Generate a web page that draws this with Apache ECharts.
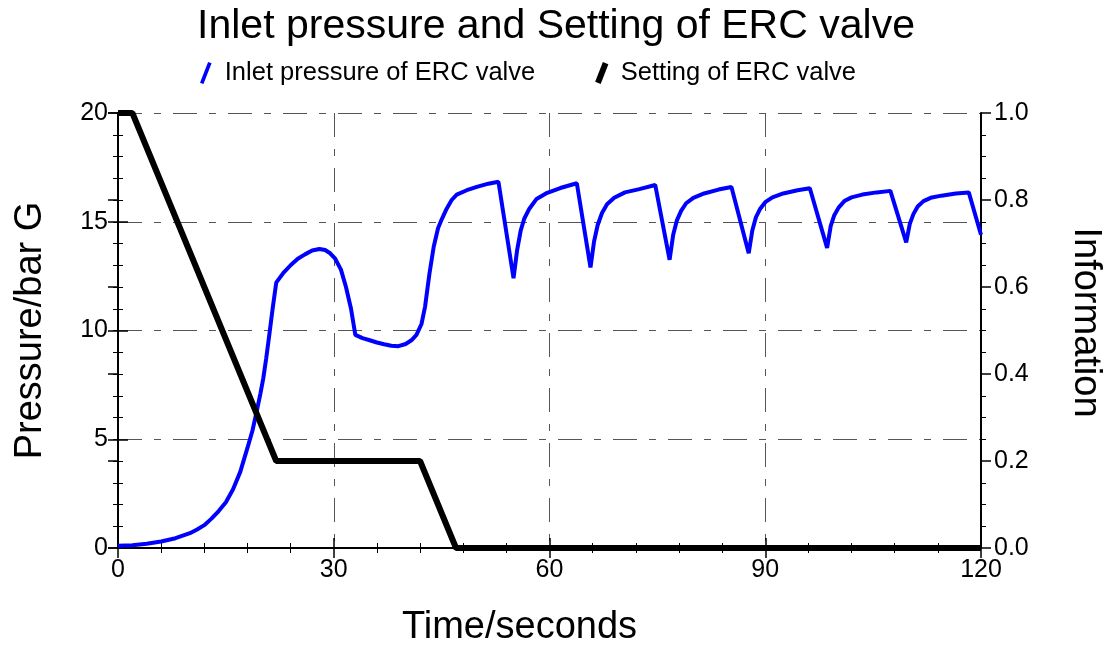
<!DOCTYPE html>
<html>
<head>
<meta charset="utf-8">
<script src="https://cdn.jsdelivr.net/npm/echarts@6/dist/echarts.min.js"></script>
<style>
  html, body { margin: 0; padding: 0; background: #fff; }
  #chart { width: 1112px; height: 645px; }
</style>
</head>
<body>
<div id="chart"></div>
<script>
// pressure on the left axis (bar G), time in seconds
const pressureTime = [
  0, 2, 4, 6, 8, 10, 11, 12, 13, 14, 15, 16, 17, 18, 18.7, 19.3, 19.8, 20.2, 20.6, 21, 21.5,
  22, 23, 24, 25, 26, 27, 28, 28.8, 29.5, 30.2, 31, 31.7, 32.4,
  33, 34, 35, 36, 37, 38, 39, 40, 40.8, 41.5,
  42.2, 42.7, 43.3, 43.9, 44.5, 45, 45.7, 46.4, 47.1, 48.5, 49.9, 51.5, 52.9,
  55, 55.5, 56, 56.5, 57.2, 58.2, 59.5, 61.5, 63.8,
  65.7, 66.2, 66.7, 67.3, 68, 69, 70.5, 72.5, 74.7,
  76.7, 77.2, 77.7, 78.3, 79, 80, 81.5, 83.5, 85.3,
  87.7, 88.2, 88.7, 89.3, 90, 91, 92.5, 94.5, 96.2,
  98.6, 99.1, 99.6, 100.2, 101, 102, 103.5, 105.5, 107.4,
  109.6, 110.1, 110.6, 111.2, 112, 113, 114.5, 116.5, 118.3, 120
];
const pressureValues = [
  0.1, 0.13, 0.2, 0.3, 0.45, 0.68, 0.85, 1.05, 1.35, 1.7, 2.1, 2.7, 3.5, 4.6, 5.4, 6.3, 7.1, 7.8, 8.7, 9.7, 11.0,
  12.2, 12.65, 13.0, 13.3, 13.5, 13.68, 13.75, 13.7, 13.55, 13.3, 12.8, 12.0, 11.0,
  9.8, 9.65, 9.55, 9.45, 9.37, 9.3, 9.28, 9.38, 9.55, 9.8,
  10.3, 11.1, 12.6, 13.85, 14.7, 15.1, 15.6, 16.0, 16.25, 16.45, 16.6, 16.75, 16.84,
  12.4, 13.7, 14.6, 15.15, 15.6, 16.05, 16.3, 16.55, 16.77,
  12.9, 14.1, 14.85, 15.4, 15.8, 16.1, 16.35, 16.5, 16.69,
  13.25, 14.4, 15.05, 15.5, 15.85, 16.1, 16.3, 16.48, 16.6,
  13.55, 14.6, 15.2, 15.6, 15.9, 16.12, 16.3, 16.45, 16.54,
  13.8, 14.8, 15.3, 15.65, 15.95, 16.12, 16.25, 16.35, 16.42,
  14.05, 14.9, 15.35, 15.7, 15.95, 16.1, 16.2, 16.3, 16.35, 14.4
];

// valve setting on the right axis
const settingTime = [0, 2, 22, 42, 47, 120];
const settingValues = [1.0, 1.0, 0.2, 0.2, 0, 0];

const legendNames = ['Inlet pressure of ERC valve', 'Setting of ERC valve'];

const font = "'Liberation Sans', Arial, sans-serif";

function pairs(xs, ys) {
  return xs.map((x, i) => [x, ys[i]]);
}

const gridDash = {
  show: true,
  lineStyle: { color: '#555', width: 1, type: [24, 12, 7, 12] }
};

const tickStyle = { color: '#000', width: 1.5 };

const chart = echarts.init(document.getElementById('chart'));

chart.setOption({
  animation: false,
  backgroundColor: '#fff',
  title: {
    text: 'Inlet pressure and Setting of ERC valve',
    left: 'center',
    top: 1,
    textStyle: { fontFamily: font, fontSize: 41, fontWeight: 'normal', color: '#000' }
  },
  legend: {
    top: 55,
    left: 195,
    itemGap: 60,
    itemWidth: 16,
    itemHeight: 22,
    textStyle: { fontFamily: font, fontSize: 25.5, color: '#000', padding: [0, 0, 0, 6] },
    data: [
      { name: legendNames[0], icon: 'path://M0,18 L7,0 L10,1 L3,19 Z', itemStyle: { color: '#0000ff' } },
      { name: legendNames[1], icon: 'path://M0,18 L7,0 L12,2 L5,20 Z', itemStyle: { color: '#000' } }
    ]
  },
  grid: { left: 118, right: 131, top: 113, bottom: 97, outerBoundsMode: 'none' },
  xAxis: [
    {
      type: 'value',
      min: 0, max: 120, interval: 30,
      name: 'Time/seconds',
      nameLocation: 'middle',
      nameGap: 61,
      nameTextStyle: { fontFamily: font, fontSize: 38, color: '#000', padding: [0, 60, 0, 0] },
      axisLine: { show: true, onZero: false, lineStyle: { color: '#000', width: 2 } },
      axisTick: { show: true, length: 10, lineStyle: tickStyle },
      minorTick: { show: true, splitNumber: 5, length: 5, lineStyle: { color: '#000', width: 1 } },
      axisLabel: { fontFamily: font, fontSize: 25, color: '#000', margin: 10 },
      splitLine: gridDash
    },
    {
      type: 'value',
      min: 0, max: 120, interval: 30,
      position: 'bottom',
      axisLine: { show: false },
      axisTick: { show: true, inside: true, length: 10, lineStyle: tickStyle },
      minorTick: { show: true, splitNumber: 5, length: 5, lineStyle: { color: '#000', width: 1 } },
      axisLabel: { show: false },
      splitLine: { show: false }
    }
  ],
  yAxis: [
    {
      type: 'value',
      position: 'left',
      min: 0, max: 20, interval: 5,
      name: 'Pressure/bar G',
      nameLocation: 'middle',
      nameGap: 68,
      nameTextStyle: { fontFamily: font, fontSize: 38, color: '#000' },
      axisLine: { show: true, onZero: false, lineStyle: { color: '#000', width: 2 } },
      axisTick: { show: true, length: 10, lineStyle: tickStyle },
      minorTick: { show: true, splitNumber: 5, length: 5, lineStyle: { color: '#000', width: 1 } },
      axisLabel: { fontFamily: font, fontSize: 25, color: '#000', margin: 10 },
      splitLine: gridDash
    },
    {
      type: 'value',
      position: 'right',
      min: 0, max: 1, interval: 0.2,
      name: 'Information',
      nameLocation: 'middle',
      nameRotate: -90,
      nameGap: 85,
      nameTextStyle: { fontFamily: font, fontSize: 38, color: '#000', padding: [0, 16, 0, 0] },
      axisLine: { show: true, onZero: false, lineStyle: { color: '#000', width: 2 } },
      axisTick: { show: true, length: 10, lineStyle: tickStyle },
      minorTick: { show: true, splitNumber: 4, length: 5, lineStyle: { color: '#000', width: 1 } },
      axisLabel: { fontFamily: font, fontSize: 25, color: '#000', margin: 13, formatter: v => v.toFixed(1) },
      splitLine: { show: false }
    },
    {
      type: 'value',
      position: 'left',
      min: 0, max: 20, interval: 5,
      axisLine: { show: false },
      axisTick: { show: true, inside: true, length: 10, lineStyle: tickStyle },
      minorTick: { show: true, splitNumber: 5, length: 5, lineStyle: { color: '#000', width: 1 } },
      axisLabel: { show: false },
      splitLine: { show: false }
    },
    {
      type: 'value',
      position: 'right',
      min: 0, max: 1, interval: 0.2,
      axisLine: { show: false },
      axisTick: { show: true, inside: true, length: 10, lineStyle: tickStyle },
      minorTick: { show: true, splitNumber: 4, length: 5, lineStyle: { color: '#000', width: 1 } },
      axisLabel: { show: false },
      splitLine: { show: false }
    }
  ],
  series: [
    {
      name: legendNames[0],
      type: 'line',
      xAxisIndex: 0,
      yAxisIndex: 0,
      data: pairs(pressureTime, pressureValues),
      showSymbol: false,
      clip: false,
      lineStyle: { color: '#0000ff', width: 4 },
      itemStyle: { color: '#0000ff' },
      z: 3
    },
    {
      name: legendNames[1],
      type: 'line',
      xAxisIndex: 0,
      yAxisIndex: 1,
      data: pairs(settingTime, settingValues),
      showSymbol: false,
      clip: false,
      lineStyle: { color: '#000', width: 6 },
      itemStyle: { color: '#000' },
      z: 4
    }
  ]
});
</script>
</body>
</html>
